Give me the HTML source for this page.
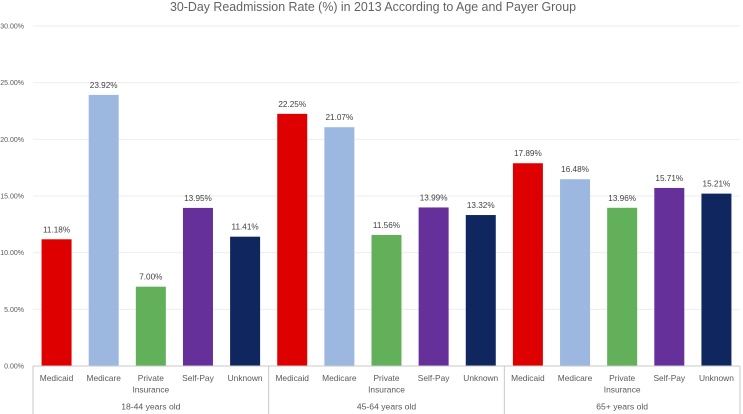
<!DOCTYPE html>
<html lang="en">
<head>
<meta charset="utf-8">
<title>30-Day Readmission Rate</title>
<style>
html,body{margin:0;padding:0;background:#fff;width:743px;height:414px;overflow:hidden}
svg{display:block;font-family:"Liberation Sans",sans-serif}
</style>
</head>
<body>
<svg id="chart" width="743" height="414" viewBox="0 0 743 414" xmlns="http://www.w3.org/2000/svg">
<text x="170" y="11" font-size="13" fill="#636363" textLength="406" lengthAdjust="spacingAndGlyphs">30-Day Readmission Rate (%) in 2013 According to Age and Payer Group</text>
</svg>
<script>
const groups = ['18-44 years old', '45-64 years old', '65+ years old'];
const payers = ['Medicaid', 'Medicare', 'Private Insurance', 'Self-Pay', 'Unknown'];
const values18to44 = [11.18, 23.92, 7.00, 13.95, 11.41];
const values45to64 = [22.25, 21.07, 11.56, 13.99, 13.32];
const values65plus = [17.89, 16.48, 13.96, 15.71, 15.21];
const yTicks = [0, 5, 10, 15, 20, 25, 30];
const payerColors = ['#de0000', '#9db8e0', '#62b05a', '#65309a', '#10265e'];

const svg = document.getElementById('chart');
const NS = 'http://www.w3.org/2000/svg';
const allValues = [values18to44, values45to64, values65plus];
const plotLeft = 33, plotRight = 740, plotTop = 26, plotBottom = 366, yMax = 30;
const categoryCount = groups.length * payers.length;
const step = (plotRight - plotLeft) / categoryCount;
const barWidth = 30;

function yScale(v) {
  return plotBottom - (v / yMax) * (plotBottom - plotTop);
}
function xCenter(groupIndex, payerIndex) {
  return plotLeft + step * (groupIndex * payers.length + payerIndex + 0.5);
}
function make(tag, attrs, text) {
  const el = document.createElementNS(NS, tag);
  for (const k in attrs) el.setAttribute(k, attrs[k]);
  if (text !== undefined) el.textContent = text;
  svg.appendChild(el);
  return el;
}

yTicks.forEach(function (t) {
  const y = yScale(t);
  if (t > 0) {
    const grid = make('line', {x1: plotLeft, x2: plotRight, y1: y, y2: y, stroke: '#eeeeee', 'stroke-width': 1});
    
    
  }
  const label = make('text', {x: 24, y: y + 2.5, 'font-size': 7, 'text-anchor': 'end', fill: '#595959'}, t.toFixed(2) + '%');
  
  
});

allValues.forEach(function (series, g) {
  series.forEach(function (v, p) {
    const cx = xCenter(g, p);
    const top = yScale(v);
    const bar = make('rect', {x: cx - barWidth / 2, y: top, width: barWidth, height: plotBottom - top, fill: payerColors[p]});
    
    
    const val = make('text', {x: cx, y: top - 7, 'font-size': 8.2, 'text-anchor': 'middle', fill: '#404040'}, v.toFixed(2) + '%');
    
    
    const parts = payers[p].split(' ');
    parts.forEach(function (part, i) {
      const cat = make('text', {x: cx, y: 381 + i * 11.5, 'font-size': 8.4, 'text-anchor': 'middle', fill: '#595959'}, part);
      
      
    });
  });
  const gx = plotLeft + step * payers.length * (g + 0.5);
  const gl = make('text', {x: gx, y: 409.5, 'font-size': 8.6, 'text-anchor': 'middle', fill: '#595959'}, groups[g]);
  
  
});

const axis = make('line', {x1: plotLeft, x2: plotRight, y1: plotBottom, y2: plotBottom, stroke: '#c8c8c8', 'stroke-width': 1});



for (let g = 0; g <= groups.length; g++) {
  const x = plotLeft + step * payers.length * g;
  const sep = make('line', {x1: x, x2: x, y1: plotBottom, y2: 414, stroke: '#c8c8c8', 'stroke-width': 1});
  
  
}
</script>
</body>
</html>
